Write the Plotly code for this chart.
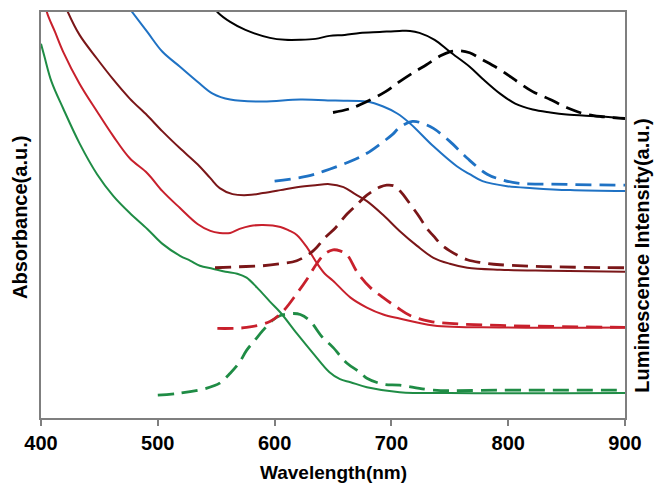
import plotly.graph_objects as go

# Absorbance (solid) and luminescence (dashed) spectra, arbitrary units (stacked offsets)
black_abs_wl = [540, 551, 562, 575, 596, 609, 622, 635, 647, 660, 673, 690, 707, 716, 724, 737, 750, 767, 778, 793, 806, 821, 836, 850, 879, 900]
black_abs = [426, 408, 398, 390, 382, 380, 380, 381, 384, 385, 387, 388, 389, 389, 387, 380, 368, 353, 341, 326, 316, 310, 307, 305, 303, 301]
black_lum_wl = [650, 665, 679, 695, 707, 720, 730, 742, 750, 759, 767, 778, 793, 808, 821, 836, 850, 864, 879, 900]
black_lum = [307, 311, 318, 328, 338, 348, 355, 364, 368, 369, 367, 360, 350, 338, 328, 320, 312, 306, 303, 301]

blue_abs_wl = [468, 478, 491, 504, 519, 534, 547, 562, 590, 622, 652, 679, 693, 705, 716, 736, 756, 767, 778, 799, 821, 853, 900]
blue_abs = [423, 408, 388, 368, 353, 338, 326, 320, 318, 320, 319, 318, 313, 306, 296, 273, 253, 245, 238, 233, 231, 229, 228]
blue_lum_wl = [600, 628, 647, 665, 679, 690, 701, 707, 718, 727, 736, 750, 765, 782, 793, 808, 836, 900]
blue_lum = [238, 243, 250, 258, 266, 275, 285, 292, 298, 296, 291, 278, 261, 245, 240, 236, 235, 234]

maroon_abs_wl = [418, 423, 433, 448, 462, 476, 491, 504, 519, 534, 545, 553, 564, 577, 590, 605, 619, 635, 647, 659, 669, 679, 693, 707, 722, 736, 750, 765, 793, 836, 900]
maroon_abs = [423, 408, 385, 361, 340, 321, 304, 288, 271, 255, 241, 231, 225, 224, 226, 229, 232, 234, 235, 232, 225, 218, 204, 188, 173, 161, 155, 151, 149, 148, 147]
maroon_lum_wl = [549, 570, 590, 605, 619, 633, 643, 652, 662, 671, 677, 684, 690, 696, 703, 709, 716, 724, 730, 736, 743, 750, 765, 778, 793, 836, 900]
maroon_lum = [151, 152, 153, 155, 158, 168, 181, 191, 205, 215, 222, 228, 232, 234, 233, 226, 215, 202, 191, 183, 174, 168, 159, 156, 154, 152, 151]

red_abs_wl = [403, 405, 412, 419, 433, 448, 462, 476, 491, 504, 519, 534, 545, 553, 562, 570, 579, 590, 605, 613, 619, 628, 636, 643, 650, 665, 679, 693, 707, 736, 793, 900]
red_abs = [423, 408, 388, 368, 336, 308, 283, 261, 246, 228, 211, 195, 188, 186, 186, 190, 193, 194, 192, 188, 184, 171, 156, 145, 138, 121, 111, 104, 100, 93, 91, 91]
red_lum_wl = [551, 576, 596, 607, 619, 628, 636, 643, 650, 656, 662, 671, 682, 693, 705, 716, 733, 750, 793, 900]
red_lum = [90, 91, 97, 107, 125, 140, 155, 165, 169, 168, 164, 146, 131, 121, 111, 103, 97, 95, 93, 91]

green_abs_wl = [400, 403, 409, 419, 433, 448, 462, 476, 491, 504, 519, 528, 536, 547, 558, 568, 576, 585, 596, 605, 619, 633, 647, 656, 665, 679, 707, 750, 900]
green_abs = [376, 363, 338, 311, 276, 245, 223, 206, 190, 175, 163, 158, 153, 150, 147, 145, 141, 131, 117, 106, 85, 65, 46, 39, 36, 31, 26, 25, 25]
green_lum_wl = [500, 519, 542, 553, 562, 570, 576, 583, 590, 598, 605, 616, 622, 630, 641, 650, 662, 673, 679, 693, 707, 736, 793, 900]
green_lum = [23, 25, 30, 35, 45, 56, 68, 78, 88, 98, 103, 105, 104, 98, 81, 71, 55, 46, 40, 34, 33, 28, 28, 28]

x_ticks = [400, 500, 600, 700, 800, 900]

colors = {
    "black": "#000000",
    "blue": "#1f72c4",
    "maroon": "#7a1618",
    "red": "#c8202c",
    "green": "#1f8c45",
}

series = [
    ("green", green_abs_wl, green_abs, green_lum_wl, green_lum),
    ("red", red_abs_wl, red_abs, red_lum_wl, red_lum),
    ("maroon", maroon_abs_wl, maroon_abs, maroon_lum_wl, maroon_lum),
    ("blue", blue_abs_wl, blue_abs, blue_lum_wl, blue_lum),
    ("black", black_abs_wl, black_abs, black_lum_wl, black_lum),
]

fig = go.Figure()
for name, awl, a, lwl, l in series:
    c = colors[name]
    fig.add_trace(go.Scatter(x=awl, y=a, mode="lines", showlegend=False,
                             line=dict(color=c, width=2, shape="spline", smoothing=1.0)))
    fig.add_trace(go.Scatter(x=lwl, y=l, mode="lines", showlegend=False,
                             line=dict(color=c, width=2.8, dash="16px,8px", shape="spline", smoothing=1.0)))

axis_col = "#7f7f7f"
fig.update_layout(
    width=654, height=485,
    margin=dict(l=41, r=29, t=10, b=67),
    paper_bgcolor="white", plot_bgcolor="white",
    font=dict(family="Liberation Sans, Arial, sans-serif", color="black"),
    xaxis=dict(range=[400, 900], tickvals=x_ticks, ticktext=[str(v) for v in x_ticks],
               ticks="outside", ticklen=6, tickwidth=1.5, tickcolor=axis_col,
               showline=True, linecolor=axis_col, linewidth=2, mirror=True,
               showgrid=False, zeroline=False,
               tickfont=dict(size=20, family="Liberation Sans, Arial", color="black", weight="bold")),
    yaxis=dict(range=[0, 408], showticklabels=False, ticks="",
               showline=True, linecolor=axis_col, linewidth=2, mirror=True,
               showgrid=False, zeroline=False),
    annotations=[
        dict(text="<b>Wavelength(nm)</b>", xref="paper", yref="paper", x=0.5, y=-(473 - 418) / 408,
             xanchor="center", yanchor="middle", showarrow=False, font=dict(size=19)),
        dict(text="<b>Absorbance(a.u.)</b>", xref="paper", yref="paper", x=(20 - 41) / 584, y=(418 - 217) / 408,
             xanchor="center", yanchor="middle", textangle=-90, showarrow=False, font=dict(size=20)),
        dict(text="<b>Luminescence Intensity(a.u.)</b>", xref="paper", yref="paper", x=(642 - 41) / 584, y=(418 - 255) / 408,
             xanchor="center", yanchor="middle", textangle=-90, showarrow=False, font=dict(size=20)),
    ],
)

fig.write_html("out.html")
